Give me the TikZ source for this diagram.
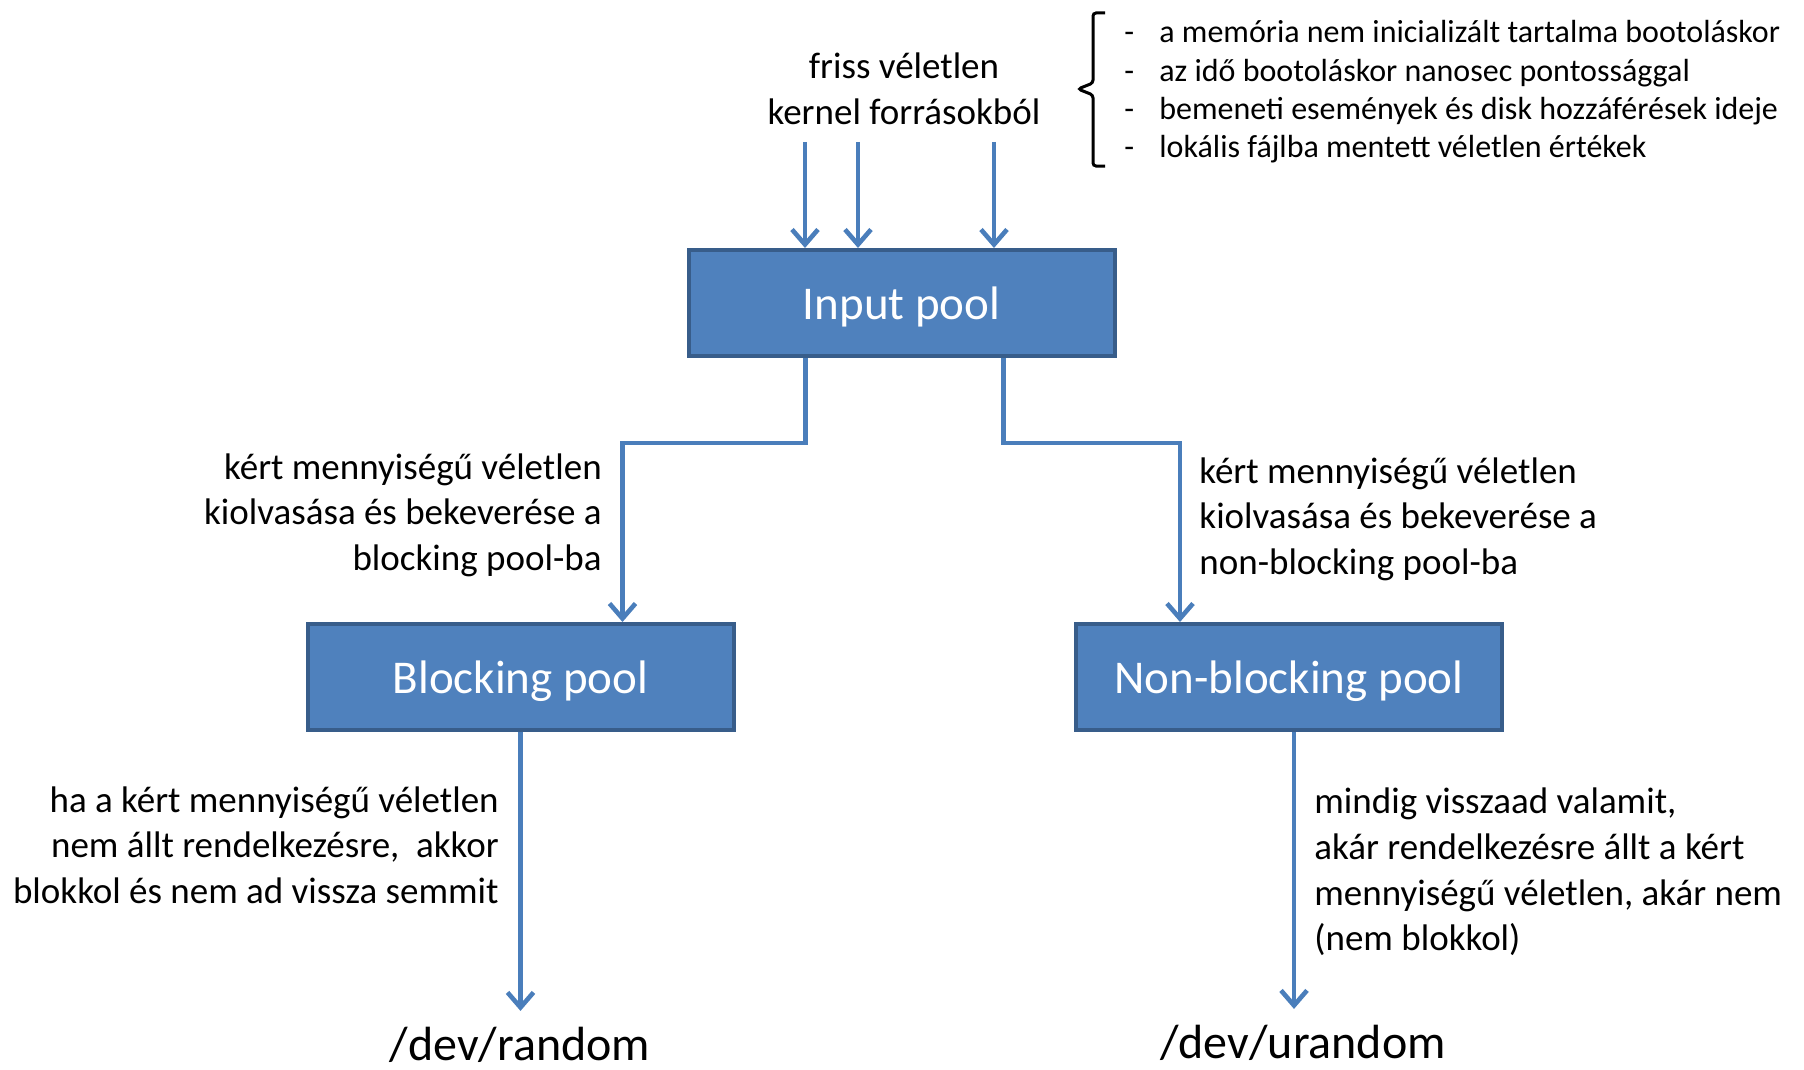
\documentclass[tikz,border=0pt]{standalone}
\usepackage{fontspec}
\setmainfont{Carlito}
\usetikzlibrary{arrows.meta}
\definecolor{poolfill}{HTML}{4F81BD}
\definecolor{poolline}{HTML}{385D8A}
\definecolor{flowline}{HTML}{4A7EBB}

\begin{document}
\begin{tikzpicture}[x=0.5pt, y=-0.5pt, >={Straight Barb[length=7.5pt, width=13pt]}]
  \tikzstyle{poolnode}=[draw=poolline, line width=2pt, fill=poolfill, text=white, minimum width=213pt, minimum height=53pt, text height=19pt, text depth=2.8pt, font=\fontsize{23.5}{28}\selectfont]
  \tikzstyle{flow}=[->, draw=flowline, line width=2.3pt]
  \tikzstyle{note}=[inner sep=0pt, font=\fontsize{18.5}{22.8}\selectfont]
  \tikzstyle{devnode}=[inner sep=0pt, font=\fontsize{24}{28}\selectfont]

  \useasboundingbox (0,0) rectangle (1804,1070);

  % pools
  \node[poolnode] (inpool) at (901.5,303) {Input pool};
  \node[poolnode] (bpool) at (520.5,677) {Blocking pool};
  \node[poolnode] (nbpool) at (1289,677) {Non-blocking pool};

  % sources of fresh randomness
  \node[note, align=center] (fresh) at (904,89) {friss véletlen\\kernel forrásokból};
  \node[inner sep=0pt, anchor=west, align=left, font=\fontsize{16}{19.2}\selectfont] (srclist) at (1124,92)
    {\makebox[17.5pt][l]{-}a memória nem inicializált tartalma bootoláskor\\
     \makebox[17.5pt][l]{-}az idő bootoláskor nanosec pontossággal\\
     \makebox[17.5pt][l]{-}bemeneti események és disk hozzáférések ideje\\
     \makebox[17.5pt][l]{-}lokális fájlba mentett véletlen értékek};
  \draw[line width=1.5pt, rounded corners=1.5pt] (1105,13) -- (1093,13) -- (1093,83) -- (1078,89) -- (1093,95) -- (1093,166) -- (1105,166);

  \coordinate (src1) at (805,142);
  \coordinate (src2) at (858,142);
  \coordinate (src3) at (994,142);
  \draw[flow] (src1) -- (src1 |- inpool.north);
  \draw[flow] (src2) -- (src2 |- inpool.north);
  \draw[flow] (src3) -- (src3 |- inpool.north);

  % input pool -> blocking / non-blocking
  \draw[flow] ([xshift=-48pt]inpool.south) -- ++(0,-42.5pt) -| ([xshift=51pt]bpool.north);
  \draw[flow] ([xshift=51pt]inpool.south) -- ++(0,-42.5pt) -| ([xshift=-54.5pt]nbpool.north);
  \node[note, anchor=east, align=right] (bmix) at (602,515) {kért mennyiségű véletlen\\kiolvasása és bekeverése a\\blocking pool-ba};
  \node[note, anchor=west, align=left] (nbmix) at (1199,519) {kért mennyiségű véletlen\\kiolvasása és bekeverése a\\non-blocking pool-ba};

  % outputs
  \node[devnode] (devrand) at (520,1045) {/dev/random};
  \node[devnode] (devurand) at (1303,1043) {/dev/urandom};
  \draw[flow, shorten >=8pt] (bpool.south) -- (bpool.south |- devrand.north);
  \draw[flow, shorten >=8pt] ([xshift=2.5pt]nbpool.south) -- ([xshift=2.5pt]nbpool.south |- devurand.north);
  \node[note, anchor=east, align=right] (bnote) at (499,845) {ha a kért mennyiségű véletlen\\nem állt rendelkezésre,~ akkor\\blokkol és nem ad vissza semmit};
  \node[note, anchor=west, align=left] (nbnote) at (1314,872) {mindig visszaad valamit,\\akár rendelkezésre állt a kért\\mennyiségű véletlen, akár nem\\(nem blokkol)};
\end{tikzpicture}
\end{document}
